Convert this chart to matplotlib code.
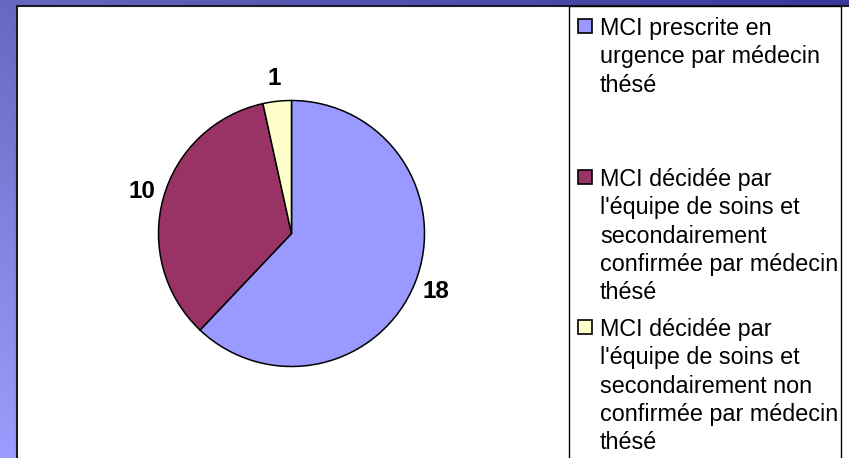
import numpy as np
import matplotlib
matplotlib.use("Agg")
import matplotlib.pyplot as plt
from matplotlib.patches import Rectangle
from matplotlib.colors import to_rgb

# ---- data ----
values = [18, 10, 1]
labels = [
    "MCI prescrite en\nurgence par médecin\nthésé",
    "MCI décidée par\nl'équipe de soins et\nsecondairement\nconfirmée par médecin\nthésé",
    "MCI décidée par\nl'équipe de soins et\nsecondairement non\nconfirmée par médecin\nthésé",
]
colors = ["#9999FF", "#993366", "#FFFFCC"]

W, H = 849, 458
plt.rcParams['font.family'] = ['Liberation Sans', 'DejaVu Sans']
fig = plt.figure(figsize=(W / 100, H / 100), dpi=100)

def fx(x):
    return x / W

def fy(y_top):
    return 1 - y_top / H

# ---- background gradient ----
bg = fig.add_axes([0, 0, 1, 1], zorder=-10)
bg.set_axis_off()
c00 = np.array(to_rgb("#6868c0"))   # top-left
cB = np.array(to_rgb("#9c9cfe"))    # bottom-left
cR = np.array(to_rgb("#38389a"))    # top-right
xx, yy = np.meshgrid(np.linspace(0, 1, 200), np.linspace(0, 1, 120))
img = c00[None, None, :] + xx[..., None] * (cR - c00) + yy[..., None] * (cB - c00)
img = np.clip(img, 0, 1)
bg.imshow(img, extent=[0, 1, 1, 0], aspect='auto', origin='upper')
bg.set_xlim(0, 1)
bg.set_ylim(1, 0)

# ---- plot area (white, black border) ----
fig.add_artist(Rectangle((fx(16.5), fy(470)), fx(900), (470 - 5.5) / H,
                         transform=fig.transFigure, facecolor='white',
                         edgecolor='#1a1a2a', linewidth=1.5, zorder=0))

# ---- legend box ----
fig.add_artist(Rectangle((fx(569), fy(470)), fx(841 - 569), (470 - 5.5) / H,
                         transform=fig.transFigure, facecolor='white',
                         edgecolor='black', linewidth=1.0, zorder=1))

# ---- pie ----
cx, cy, r = 291.5, 233.5, 133
ax = fig.add_axes([fx(cx - r), fy(cy + r), fx(2 * r), 2 * r / H], zorder=2)
wedges, texts = ax.pie(values, colors=colors, startangle=90, counterclock=False,
                       labels=[str(v) for v in values], labeldistance=1.17,
                       wedgeprops=dict(edgecolor='black', linewidth=1.1),
                       textprops=dict(fontsize=17.5, fontweight='bold', color='black'))
for t in texts:
    t.set_ha('center')
    t.set_va('center')
    t.set_clip_on(False)
ax.set_xlim(-1, 1)
ax.set_ylim(-1, 1)
ax.set_axis_off()

# ---- legend entries ----
first_baselines = [35, 186, 336]
line_step = 28.3
for lab, col, yb in zip(labels, colors, first_baselines):
    fig.add_artist(Rectangle((fx(578), fy(yb - 2)), fx(14), 14 / H,
                             transform=fig.transFigure, facecolor=col,
                             edgecolor='black', linewidth=1.2, zorder=3))
    for i, line in enumerate(lab.split("\n")):
        fig.text(fx(600), fy(yb + i * line_step), line, fontsize=16.8,
                 ha='left', va='baseline', color='black', zorder=4)

fig.savefig("out.png", dpi=100)
